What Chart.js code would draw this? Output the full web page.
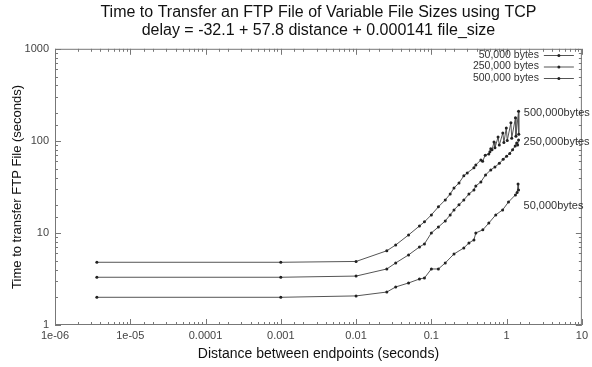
<!DOCTYPE html>
<html>
<head>
<meta charset="utf-8">
<script src="https://cdn.jsdelivr.net/npm/chart.js@4/dist/chart.umd.min.js"></script>
<style>
  html, body { margin: 0; padding: 0; background: #fff; }
  #wrap { width: 592px; height: 367px; }
</style>
</head>
<body>
<div id="wrap"><canvas id="grafica" width="592" height="367"></canvas></div>
<script>
// series labels
const seriesNames = ["50,000 bytes", "250,000 bytes", "500,000 bytes"];
const endLabels = ["50,000bytes", "250,000bytes", "500,000bytes"];

// 50,000 bytes
const dist50 = [3.6e-6, 0.001, 0.01, 0.0256, 0.0336, 0.0498, 0.0695, 0.081, 0.1, 0.124, 0.153, 0.2, 0.27, 0.316, 0.368, 0.39, 0.483, 0.58, 0.717, 0.885, 1.06, 1.31, 1.38, 1.42, 1.44];
const time50 = [2.0, 2.0, 2.07, 2.28, 2.59, 2.86, 3.16, 3.24, 4.06, 4.06, 4.72, 5.91, 6.87, 7.79, 8.4, 10, 10.8, 12.8, 15.7, 17.8, 21.7, 25.9, 27.5, 34, 29.3];

// 250,000 bytes
const dist250 = [3.6e-6, 0.001, 0.01, 0.0256, 0.0336, 0.0498, 0.0695, 0.081, 0.1, 0.124, 0.153, 0.178, 0.2, 0.233, 0.27, 0.316, 0.368, 0.39, 0.455, 0.525, 0.616, 0.7, 0.8, 0.9, 1.0, 1.1, 1.2, 1.3, 1.36, 1.4, 1.44];
const time250 = [3.3, 3.3, 3.4, 4.06, 4.72, 5.77, 7.04, 7.6, 10, 11.6, 13.5, 15.7, 17.8, 20.2, 22.8, 26.5, 29.3, 32.4, 35.8, 42.7, 48.4, 52, 57, 63, 68, 73, 80, 88, 95, 90, 102];

// 500,000 bytes
const dist500 = [3.6e-6, 0.001, 0.01, 0.0256, 0.0336, 0.0498, 0.0695, 0.081, 0.1, 0.124, 0.153, 0.178, 0.2, 0.233, 0.27, 0.3, 0.368, 0.39, 0.455, 0.48, 0.52, 0.58, 0.6, 0.616, 0.64, 0.68, 0.7, 0.77, 0.8, 0.89, 0.92, 0.99, 1.02, 1.14, 1.17, 1.31, 1.33, 1.44, 1.45];
const time500 = [4.8, 4.8, 4.9, 6.4, 7.4, 9.5, 11.9, 13.2, 15.7, 19.2, 22.8, 26.5, 30.8, 34.9, 41.7, 44.9, 50.9, 54.8, 62, 60, 70, 72, 76, 82, 80, 97, 84, 110, 90, 122, 96, 138, 101, 157, 107, 178, 112, 210, 118];

// axis ticks
const xTickValues = [1e-6, 1e-5, 1e-4, 1e-3, 1e-2, 0.1, 1, 10];
const xTickLabels = ["1e-06", "1e-05", "0.0001", "0.001", "0.01", "0.1", "1", "10"];
const yTickValues = [1, 10, 100, 1000];
const yTickLabels = ["1", "10", "100", "1000"];

function puntos(xs, ys) {
    return xs.map((x, i) => ({ x: x, y: ys[i] }));
}

function etiqueta(valores, etiquetas, v) {
    for (let i = 0; i < valores.length; i++) {
        if (Math.abs(v / valores[i] - 1) < 1e-6) return etiquetas[i];
    }
    return "";
}

const FONT = "'Liberation Sans', Arial, sans-serif";
const LINEA = "#555";
const PUNTO = "#222";

// marco y marcas hacia dentro, estilo gnuplot
const marco = {
    id: "marco",
    afterDatasetsDraw(chart) {
        const ctx = chart.ctx;
        const a = chart.chartArea;
        const sx = chart.scales.x, sy = chart.scales.y;
        ctx.save();
        ctx.strokeStyle = "#777";
        ctx.lineWidth = 1;
        ctx.strokeRect(a.left + 0.5, a.top + 0.5, a.right - a.left - 1, a.bottom - a.top - 1);
        ctx.beginPath();
        sx.ticks.forEach(t => {
            const p = Math.round(sx.getPixelForValue(t.value)) + 0.5;
            const l = etiqueta(xTickValues, xTickLabels, t.value) ? 6 : 3;
            ctx.moveTo(p, a.bottom); ctx.lineTo(p, a.bottom - l);
            ctx.moveTo(p, a.top); ctx.lineTo(p, a.top + l);
        });
        sy.ticks.forEach(t => {
            const p = Math.round(sy.getPixelForValue(t.value)) + 0.5;
            const l = etiqueta(yTickValues, yTickLabels, t.value) ? 6 : 3;
            ctx.moveTo(a.left, p); ctx.lineTo(a.left + l, p);
            ctx.moveTo(a.right, p); ctx.lineTo(a.right - l, p);
        });
        ctx.stroke();

        // leyenda arriba a la derecha
        ctx.font = "10.5px " + FONT;
        ctx.fillStyle = "#333";
        ctx.textAlign = "right";
        ctx.textBaseline = "middle";
        seriesNames.forEach((n, i) => {
            const y = 55 + i * 11.5;
            ctx.fillText(n, a.right - 43, y);
            ctx.beginPath();
            ctx.strokeStyle = LINEA;
            ctx.moveTo(a.right - 38, y + 0.5); ctx.lineTo(a.right - 8, y + 0.5);
            ctx.stroke();
            ctx.beginPath();
            ctx.fillStyle = PUNTO;
            ctx.arc(a.right - 23, y + 0.5, 1.5, 0, Math.PI * 2);
            ctx.fill();
            ctx.fillStyle = "#333";
        });

        // etiquetas al final de cada curva
        ctx.textAlign = "left";
        ctx.font = "11px " + FONT;
        const desp = [16, 2, 2];
        chart.data.datasets.forEach((ds, i) => {
            const ult = ds.data[ds.data.length - 1];
            let maxY = ds.data.reduce((m, p) => Math.max(m, p.y), 0);
            const px = sx.getPixelForValue(ult.x) + 5;
            const py = sy.getPixelForValue(i === 0 ? ult.y : maxY) + desp[i];
            ctx.fillText(endLabels[i], px, py);
        });
        ctx.restore();
    }
};

const estilo = {
    borderColor: LINEA,
    borderWidth: 1,
    pointRadius: 1.5,
    pointBackgroundColor: PUNTO,
    pointBorderColor: PUNTO,
    pointBorderWidth: 0,
    tension: 0,
    fill: false
};

new Chart(document.getElementById("grafica"), {
    type: "line",
    data: {
        datasets: [
            Object.assign({ label: seriesNames[0], data: puntos(dist50, time50) }, estilo),
            Object.assign({ label: seriesNames[1], data: puntos(dist250, time250) }, estilo),
            Object.assign({ label: seriesNames[2], data: puntos(dist500, time500) }, estilo)
        ]
    },
    options: {
        responsive: false,
        animation: false,
        layout: { padding: { left: 0, right: 6, top: 0, bottom: 0 } },
        plugins: {
            legend: { display: false },
            tooltip: { enabled: false },
            title: {
                display: true,
                fullSize: false,
                text: ["Time to Transfer an FTP File of Variable File Sizes using TCP",
                       "delay = -32.1 + 57.8 distance + 0.000141 file_size"],
                color: "#111",
                font: { family: FONT, size: 16, weight: "normal", lineHeight: 1.15 },
                padding: { top: 3, bottom: 9 }
            }
        },
        scales: {
            x: {
                type: "logarithmic",
                min: 1e-6,
                max: 10,
                grid: { display: false, drawTicks: false },
                border: { display: false },
                ticks: {
                    autoSkip: false,
                    maxRotation: 0,
                    padding: 4,
                    color: "#444",
                    font: { family: FONT, size: 11 },
                    callback: v => etiqueta(xTickValues, xTickLabels, v)
                },
                title: {
                    display: true,
                    text: "Distance between endpoints (seconds)",
                    color: "#111",
                    font: { family: FONT, size: 14 },
                    padding: { top: 0, bottom: 4 }
                },
                afterFit: s => { s.height = 42; }
            },
            y: {
                type: "logarithmic",
                min: 1,
                max: 1000,
                grid: { display: false, drawTicks: false },
                border: { display: false },
                ticks: {
                    autoSkip: false,
                    padding: 6,
                    color: "#444",
                    font: { family: FONT, size: 11 },
                    callback: v => etiqueta(yTickValues, yTickLabels, v)
                },
                title: {
                    display: true,
                    text: "Time to transfer FTP File (seconds)",
                    color: "#111",
                    font: { family: FONT, size: 13 },
                    padding: { top: 10, bottom: 0 }
                },
                afterFit: s => { s.width = 55; }
            }
        }
    },
    plugins: [marco]
});
</script>
</body>
</html>
